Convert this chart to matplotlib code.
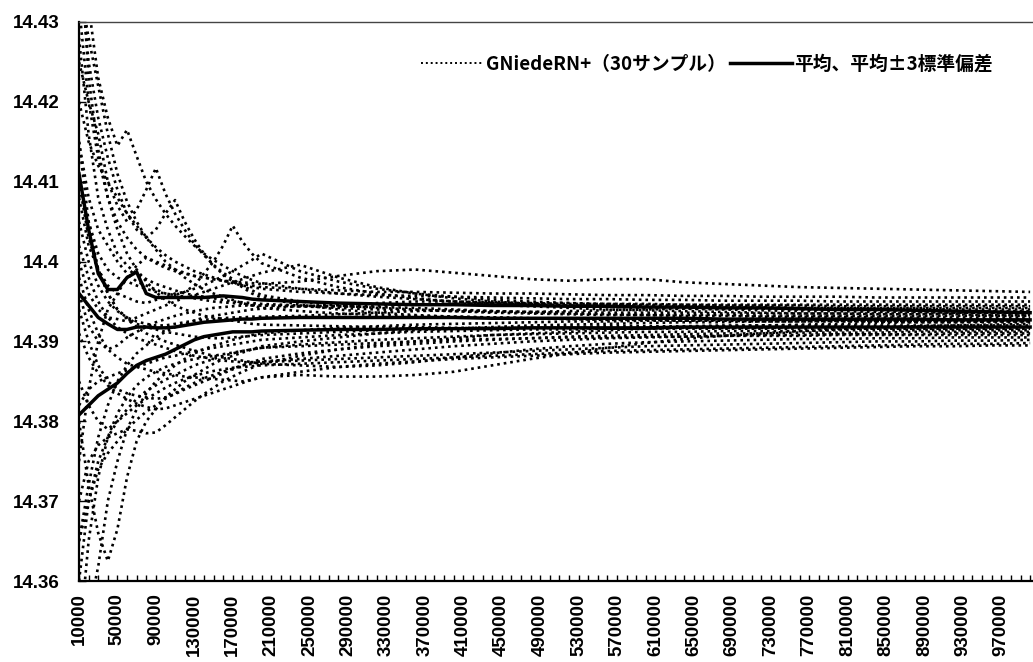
import numpy as np
import matplotlib
matplotlib.use("Agg")
import matplotlib.pyplot as plt
from matplotlib.ticker import MultipleLocator, FuncFormatter

# -----------------------------------------------------------------------------
# data
# values are in units of 1e-4 above 14.39 (so 100 -> 14.40, -300 -> 14.36)
# -----------------------------------------------------------------------------
base = 14.39
x_vals = list(range(10000, 200001, 10000)) + list(range(240000, 1000001, 40000))

samples_e4 = [
    [600, 420, 330, 280, 245, 265, 232, 200, 178, 160, 145, 132, 120, 110, 102, 95, 88, 82, 77, 73,
     66, 60, 56, 53, 50, 48, 46, 45, 44, 43, 42, 41, 41, 40, 40, 39, 39, 38, 38, 38],
    [350, 300, 260, 200, 170, 150, 165, 190, 217, 185, 160, 140, 122, 108, 96, 86, 78, 70, 64, 58,
     50, 45, 42, 40, 38, 36, 35, 34, 33, 33, 32, 32, 31, 31, 31, 30, 30, 30, 30, 30],
    [480, 350, 280, 230, 190, 160, 140, 130, 140, 160, 177, 150, 128, 110, 95, 84, 75, 68, 60, 55,
     46, 40, 36, 33, 31, 30, 29, 28, 27, 27, 26, 26, 25, 25, 25, 25, 24, 24, 24, 24],
    [250, 180, 140, 120, 100, 85, 75, 70, 65, 60, 58, 62, 70, 85, 100, 120, 145, 125, 110, 98,
     80, 68, 60, 54, 50, 46, 44, 42, 40, 39, 38, 37, 36, 35, 35, 34, 34, 34, 33, 33],
    [180, 120, 90, 70, 60, 55, 50, 48, 52, 55, 60, 62, 66, 70, 76, 82, 88, 95, 102, 110,
     88, 75, 66, 60, 56, 52, 50, 48, 46, 45, 44, 43, 43, 42, 42, 41, 41, 40, 40, 40],
    [100, 60, 40, 30, 28, 25, 30, 35, 40, 45, 50, 55, 58, 62, 66, 70, 74, 78, 82, 86,
     96, 80, 68, 60, 54, 50, 47, 45, 43, 42, 41, 40, 39, 38, 38, 37, 37, 36, 36, 36],
    [420, 300, 230, 180, 150, 130, 115, 105, 98, 92, 88, 85, 82, 80, 78, 76, 75, 74, 73, 72,
     75, 82, 88, 90, 86, 82, 78, 76, 78, 78, 74, 72, 70, 68, 67, 66, 65, 64, 63, 62],
    [-150, -60, 0, 40, 60, 80, 95, 105, 100, 95, 90, 86, 82, 80, 78, 76, 74, 72, 70, 68,
     66, 64, 62, 62, 61, 60, 60, 59, 58, 58, 57, 57, 56, 56, 56, 55, 55, 55, 55, 55],
    [300, 250, 220, 200, 180, 160, 145, 130, 118, 108, 100, 94, 88, 84, 80, 76, 73, 70, 68, 66,
     62, 60, 58, 57, 56, 55, 54, 53, 53, 52, 52, 51, 51, 51, 50, 50, 50, 50, 50, 50],
    [200, 150, 110, 90, 80, 75, 70, 66, 62, 60, 58, 56, 54, 52, 50, 49, 48, 47, 46, 45,
     44, 44, 45, 46, 47, 48, 48, 47, 47, 47, 46, 46, 46, 46, 46, 46, 46, 46, 46, 46],
    [-250, -180, -120, -80, -50, -30, -15, -5, 5, 12, 18, 22, 26, 30, 32, 34, 36, 38, 40, 41,
     44, 46, 48, 50, 50, 49, 48, 48, 47, 46, 46, 45, 45, 45, 44, 44, 44, 44, 44, 44],
    [380, 260, 180, 140, 110, 95, 85, 78, 72, 68, 64, 60, 58, 56, 54, 52, 50, 49, 48, 47,
     45, 44, 43, 42, 40, 38, 37, 38, 39, 40, 41, 42, 42, 42, 42, 42, 42, 42, 42, 42],
    [60, 20, 0, -10, -5, 5, 12, 18, 24, 28, 32, 35, 38, 40, 42, 43, 44, 45, 45, 45,
     44, 42, 40, 39, 38, 37, 37, 36, 36, 36, 36, 35, 35, 35, 35, 35, 35, 35, 35, 35],
    [150, 100, 70, 50, 38, 30, 25, 22, 20, 20, 22, 24, 26, 27, 28, 29, 30, 30, 31, 31,
     32, 34, 36, 38, 39, 38, 36, 35, 34, 33, 33, 33, 32, 32, 32, 32, 32, 32, 32, 32],
    [-420, -340, -282, -200, -150, -110, -85, -65, -50, -40, -30, -22, -15, -10, -5, -2, 2, 5, 8, 10,
     14, 17, 19, 21, 22, 23, 24, 25, 25, 26, 26, 27, 27, 27, 27, 28, 28, 28, 28, 28],
    [-100, -180, -240, -275, -235, -170, -125, -100, -85, -70, -60, -50, -42, -35, -28, -22, -18, -14, -10, -6,
     0, 5, 10, 14, 16, 18, 20, 21, 22, 23, 24, 24, 25, 25, 26, 26, 26, 27, 27, 27],
    [-200, -150, -130, -120, -115, -110, -112, -115, -114, -105, -95, -85, -75, -66, -58, -50, -44, -38, -33, -28,
     -18, -10, -4, 0, 4, 8, 10, 12, 14, 16, 18, 19, 20, 21, 22, 23, 24, 24, 25, 25],
    [80, 40, 10, -10, -20, -28, -32, -35, -38, -40, -42, -44, -45, -46, -47, -48, -49, -50, -48, -45,
     -42, -44, -44, -42, -38, -30, -22, -15, -8, -2, 3, 7, 10, 13, 15, 17, 19, 20, 21, 22],
    [250, 150, 90, 60, 40, 30, 22, 18, 15, 12, 10, 8, 6, 5, 4, 4, 5, 6, 7, 8,
     10, 12, 14, 15, 16, 17, 18, 18, 19, 19, 19, 20, 20, 20, 20, 20, 20, 20, 20, 20],
    [-80, -60, -50, -45, -40, -36, -32, -28, -24, -20, -18, -15, -12, -10, -8, -6, -4, -2, 0, 2,
     5, 8, 10, 12, 13, 14, 15, 15, 16, 16, 17, 17, 17, 18, 18, 18, 18, 18, 18, 18],
    [520, 330, 240, 180, 140, 110, 90, 75, 62, 52, 45, 40, 36, 32, 30, 28, 26, 24, 22, 21,
     20, 19, 18, 18, 17, 17, 17, 17, 16, 16, 16, 16, 16, 16, 16, 16, 16, 16, 16, 16],
    [-300, -200, -150, -120, -100, -85, -72, -62, -55, -48, -42, -36, -30, -26, -22, -18, -15, -12, -10, -8,
     -4, -1, 2, 4, 6, 8, 9, 10, 11, 12, 12, 13, 13, 13, 14, 14, 14, 14, 14, 14],
    [40, 0, -30, -50, -60, -65, -68, -70, -72, -70, -66, -60, -55, -50, -45, -40, -35, -30, -26, -22,
     -15, -10, -6, -3, 0, 2, 4, 6, 7, 8, 9, 10, 10, 11, 11, 11, 12, 12, 12, 12],
    [120, 80, 50, 30, 18, 10, 4, 0, -4, -8, -12, -15, -18, -20, -22, -24, -25, -26, -26, -25,
     -22, -18, -14, -10, -6, -3, 0, 2, 4, 5, 6, 7, 8, 8, 9, 9, 9, 10, 10, 10],
    [-380, -250, -170, -120, -90, -70, -55, -45, -38, -32, -28, -25, -22, -20, -18, -16, -14, -12, -10, -8,
     -6, -4, -2, 0, 2, 3, 4, 5, 5, 6, 6, 7, 7, 7, 8, 8, 8, 8, 8, 8],
    [200, 130, 90, 60, 40, 28, 18, 10, 5, 0, -4, -8, -12, -15, -18, -20, -22, -24, -26, -28,
     -30, -32, -30, -26, -20, -15, -10, -6, -3, -1, 0, 1, 2, 3, 3, 4, 4, 5, 5, 5],
    [-250, -200, -160, -140, -125, -110, -98, -88, -80, -72, -65, -58, -52, -46, -42, -38, -34, -30, -28, -26,
     -24, -22, -20, -18, -16, -14, -12, -10, -8, -6, -5, -4, -3, -2, -1, 0, 0, 1, 1, 2],
    [-50, -80, -100, -110, -100, -90, -80, -72, -65, -58, -52, -47, -43, -40, -37, -35, -33, -32, -31, -30,
     -28, -26, -24, -22, -20, -18, -16, -14, -12, -11, -10, -9, -8, -7, -6, -5, -4, -3, -3, -2],
    [10, -20, -40, -55, -65, -72, -78, -82, -85, -84, -80, -76, -72, -68, -64, -60, -56, -52, -48, -45,
     -38, -32, -28, -25, -22, -20, -18, -16, -14, -13, -12, -11, -10, -9, -8, -7, -6, -6, -5, -5],
    [450, 380, 320, 260, 210, 175, 150, 130, 115, 100, 90, 80, 72, 65, 60, 56, 52, 48, 45, 42,
     38, 35, 33, 32, 31, 30, 29, 29, 28, 28, 28, 27, 27, 27, 27, 26, 26, 26, 26, 26],
]

mean_e4 = [60, 45, 30, 22, 15, 15, 18, 18, 17, 17, 18, 20, 22, 24, 25, 26, 27, 28, 28, 29,
           30, 30, 30, 30, 30, 29, 29, 29, 29, 29, 29, 28, 28, 28, 28, 28, 28, 27, 27, 27]
upper_e4 = [210, 140, 85, 65, 65, 80, 87, 60, 55, 55, 55, 55, 55, 55, 56, 57, 56, 55, 53, 52,
            50, 48, 47, 46, 46, 45, 45, 44, 44, 43, 43, 42, 42, 41, 40, 40, 39, 38, 37, 36]
lower_e4 = [-92, -80, -68, -60, -52, -40, -30, -24, -20, -16, -10, -4, 2, 6, 8, 10, 12, 12, 12, 13,
            14, 15, 15, 16, 16, 16, 17, 17, 17, 17, 18, 18, 18, 18, 18, 18, 18, 18, 18, 18]

sample_label = "GNiedeRN+（30サンプル）"
band_label = "平均、平均±3標準偏差"

# -----------------------------------------------------------------------------
# plotting
# -----------------------------------------------------------------------------
plt.rcParams['font.family'] = ['Liberation Sans', 'DejaVu Sans']

fig = plt.figure(figsize=(10.33, 6.62), dpi=100)
ax = fig.add_axes([79/1033, 1 - 581/662, 1 - 79/1033, (581 - 22)/662])

x = np.array(x_vals)
dot_style = (0, (1.0, 1.5))
for i, s in enumerate(samples_e4):
    ax.plot(x, base + np.array(s)*1e-4, color='black', lw=1.9, linestyle=dot_style,
            label=sample_label if i == 0 else '_nolegend_')

ax.plot(x, base + np.array(mean_e4)*1e-4, color='black', lw=2.5, label=band_label)
ax.plot(x, base + np.array(upper_e4)*1e-4, color='black', lw=2.5)
ax.plot(x, base + np.array(lower_e4)*1e-4, color='black', lw=2.5)

ax.set_xlim(10000, 1003000)
ax.set_ylim(14.36, 14.43)

ax.xaxis.set_major_locator(MultipleLocator(40000))
ax.xaxis.set_minor_locator(MultipleLocator(10000))
ax.set_xticks(np.arange(10000, 1000001, 40000))
ax.yaxis.set_major_locator(MultipleLocator(0.01))
ax.yaxis.set_major_formatter(FuncFormatter(lambda v, p: "%g" % round(v, 2)))

ax.tick_params(axis='x', which='both', direction='in', length=4, width=1, pad=9)
ax.tick_params(axis='y', which='major', direction='in', length=5, width=1, pad=14)
for lab in ax.get_xticklabels():
    lab.set_rotation(90)
    lab.set_fontsize(13.5)
    lab.set_fontweight('bold')
for lab in ax.get_yticklabels():
    lab.set_fontsize(13.5)
    lab.set_fontweight('bold')

ax.spines['right'].set_visible(False)
ax.spines['left'].set_linewidth(1.6)
ax.spines['bottom'].set_linewidth(1.6)
ax.spines['top'].set_linewidth(1.0)
ax.spines['top'].set_color('#444444')

leg = ax.legend(loc='upper right', bbox_to_anchor=(993/1033, 1 - 55/662),
                bbox_transform=fig.transFigure, ncol=2, frameon=False,
                handlelength=3.3, handletextpad=0.15, columnspacing=0.2,
                borderaxespad=0, borderpad=0,
                prop={'family': ['Noto Sans CJK JP', 'DejaVu Sans'], 'weight': 'bold', 'size': 13.5})
leg.get_lines()[0].set_linewidth(1.4)

fig.savefig("out.png", dpi=100)
